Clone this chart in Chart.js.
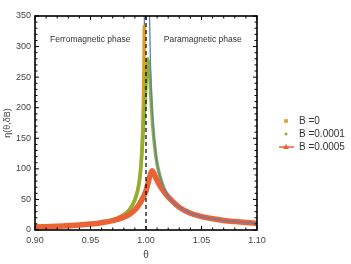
<!DOCTYPE html>
<html>
<head>
<meta charset="utf-8">
<script src="https://cdn.jsdelivr.net/npm/chart.js@4.4.1/dist/chart.umd.min.js"></script>
<style>
  html, body { margin: 0; padding: 0; background: #fff; }
</style>
</head>
<body>
<canvas id="etaChart" width="351" height="264"></canvas>
<script>
// B = 0 (orange points, ferromagnetic side)
const thetaB0 = [0.900, 0.910, 0.920, 0.930, 0.940, 0.950, 0.960, 0.970, 0.975, 0.980, 0.985, 0.990, 0.993, 0.995, 0.996, 0.997, 0.998, 0.9985];
const etaB0 = [5, 5.6, 6.3, 7.2, 8.4, 10, 12.5, 16.5, 20, 25, 33, 50, 70, 98, 122, 165, 245, 335];

// B = 0.0001 (green points)
const thetaB1 = [0.900, 0.920, 0.940, 0.950, 0.960, 0.970, 0.975, 0.980, 0.985, 0.990, 0.993, 0.995, 0.997, 0.999, 1.0005, 1.0015, 1.0025, 1.0035, 1.0045, 1.006, 1.008, 1.010, 1.013, 1.016, 1.020, 1.030, 1.040, 1.050, 1.060, 1.070, 1.080, 1.090, 1.100];
const etaB1 = [5, 6.3, 8.4, 10, 12.5, 16.5, 20, 25, 33, 49, 68, 93, 145, 205, 255, 280, 270, 250, 215, 172, 134, 108, 85, 69, 55, 37, 27.5, 22, 18.3, 15.7, 13.8, 12.2, 11];

// B = 0.0005 (red line)
const thetaB5 = [0.900, 0.920, 0.940, 0.950, 0.960, 0.970, 0.980, 0.985, 0.990, 0.994, 0.997, 1.000, 1.002, 1.004, 1.0055, 1.007, 1.009, 1.012, 1.016, 1.020, 1.030, 1.040, 1.050, 1.060, 1.070, 1.080, 1.090, 1.100];
const etaB5 = [5, 6.2, 8.2, 9.8, 12, 15.3, 21, 25.5, 33, 42, 52, 64, 78, 91, 97, 93, 85, 74, 63, 54, 37, 27.5, 22, 18.3, 15.7, 13.8, 12.2, 11];

// zero-field curve (thin blue line), two branches
const thetaTheoryLeft = [0.900, 0.920, 0.940, 0.950, 0.960, 0.970, 0.980, 0.985, 0.990, 0.993, 0.995, 0.997, 0.998, 0.9985, 0.9988];
const etaTheoryLeft = [5, 6.3, 8.4, 10, 12.5, 16.5, 25, 33, 50, 70, 98, 165, 245, 335, 420];
const thetaTheoryRight = [1.0025, 1.003, 1.004, 1.005, 1.006, 1.008, 1.010, 1.013, 1.016, 1.020, 1.025, 1.030, 1.040, 1.050, 1.060, 1.070, 1.080, 1.090, 1.100];
const etaTheoryRight = [440, 367, 275, 220, 183, 138, 110, 85, 69, 55, 44, 37, 27.5, 22, 18.3, 15.7, 13.8, 12.2, 11];

const xTicks = [0.90, 0.95, 1.00, 1.05, 1.10];
const yTicks = [0, 50, 100, 150, 200, 250, 300, 350];
const criticalTheta = 1.0;
const phaseLabels = [
    { text: 'Ferromagnetic phase', theta: 0.9498, eta: 311 },
    { text: 'Paramagnetic phase', theta: 1.0511, eta: 311 }
];

const FONT = '"Liberation Sans", Arial, sans-serif';
const ORANGE = '#E19C24', GREEN = '#8FB032', RED = '#EB6235', BLUE = '#5E81B5';

const pts = (xs, ys) => xs.map((x, i) => ({ x: x, y: ys[i] }));

const legendItems = [
    { label: 'B =0', color: ORANGE, kind: 'square' },
    { label: 'B =0.0001', color: GREEN, kind: 'dot' },
    { label: 'B =0.0005', color: RED, kind: 'lineTriangle' }
];

const framePlugin = {
    id: 'frame',
    afterDatasetsDraw(chart) {
        const { ctx, chartArea: a, scales: { x, y } } = chart;
        ctx.save();

        // dashed line at the critical point
        const xc = x.getPixelForValue(criticalTheta);
        ctx.strokeStyle = '#000';
        ctx.lineWidth = 1.2;
        ctx.setLineDash([4, 3]);
        ctx.beginPath();
        ctx.moveTo(xc, a.bottom);
        ctx.lineTo(xc, a.top);
        ctx.stroke();
        ctx.setLineDash([]);

        // phase labels
        ctx.fillStyle = '#333';
        ctx.font = '8.5px ' + FONT;
        ctx.textAlign = 'center';
        ctx.textBaseline = 'middle';
        phaseLabels.forEach(p => {
            ctx.fillText(p.text, x.getPixelForValue(p.theta), y.getPixelForValue(p.eta));
        });

        // frame with inward ticks
        ctx.strokeStyle = '#000';
        ctx.lineWidth = 1;
        ctx.beginPath();
        for (let i = 0; i <= 20; i++) {
            const px = x.getPixelForValue(0.9 + i * 0.01);
            const len = i % 5 === 0 ? 4 : 2.5;
            ctx.moveTo(px, a.bottom); ctx.lineTo(px, a.bottom - len);
            ctx.moveTo(px, a.top); ctx.lineTo(px, a.top + len);
        }
        for (let j = 0; j <= 35; j++) {
            const py = y.getPixelForValue(j * 10);
            const len = j % 5 === 0 ? 4 : 2.5;
            ctx.moveTo(a.left, py); ctx.lineTo(a.left + len, py);
            ctx.moveTo(a.right, py); ctx.lineTo(a.right - len, py);
        }
        ctx.stroke();
        ctx.lineWidth = 1.6;
        ctx.strokeRect(a.left, a.top, a.right - a.left, a.bottom - a.top);
        ctx.restore();
    },
    afterDraw(chart) {
        const { ctx } = chart;
        ctx.save();
        ctx.font = '10px ' + FONT;
        ctx.textBaseline = 'middle';
        ctx.textAlign = 'left';
        legendItems.forEach((it, i) => {
            const cy = 121 + i * 13;
            const cx = 286;
            ctx.fillStyle = it.color;
            ctx.strokeStyle = it.color;
            if (it.kind === 'square') {
                ctx.fillRect(cx - 1.8, cy - 1.8, 3.6, 3.6);
            } else if (it.kind === 'dot') {
                ctx.beginPath();
                ctx.arc(cx, cy, 1.5, 0, Math.PI * 2);
                ctx.fill();
            } else {
                ctx.lineWidth = 1.5;
                ctx.beginPath();
                ctx.moveTo(cx - 7, cy); ctx.lineTo(cx + 8, cy);
                ctx.stroke();
                ctx.beginPath();
                ctx.moveTo(cx, cy - 3); ctx.lineTo(cx + 3, cy + 2); ctx.lineTo(cx - 3, cy + 2);
                ctx.closePath();
                ctx.fill();
            }
            ctx.fillStyle = '#333';
            ctx.fillText(it.label, 299, cy);
        });
        ctx.restore();
    }
};

const lineSet = (label, data, color, width) => ({
    label: label,
    data: data,
    showLine: true,
    borderColor: color,
    backgroundColor: color,
    borderWidth: width,
    pointRadius: 0,
    cubicInterpolationMode: 'monotone'
});

new Chart(document.getElementById('etaChart').getContext('2d'), {
    type: 'scatter',
    data: {
        // first dataset is drawn on top
        datasets: [
            lineSet('theory right', pts(thetaTheoryRight, etaTheoryRight), BLUE, 1.3),
            lineSet('B =0.0005', pts(thetaB5, etaB5), RED, 5.5),
            lineSet('B =0.0001', pts(thetaB1, etaB1), GREEN, 3.5),
            lineSet('B =0', pts(thetaB0, etaB0), ORANGE, 3.5),
            lineSet('theory left', pts(thetaTheoryLeft, etaTheoryLeft), BLUE, 1.3)
        ]
    },
    options: {
        responsive: false,
        animation: false,
        layout: { padding: { top: 16, right: 94, left: 0, bottom: 0 } },
        plugins: {
            legend: { display: false },
            tooltip: { enabled: false }
        },
        scales: {
            x: {
                type: 'linear',
                min: 0.9,
                max: 1.1,
                afterBuildTicks: s => { s.ticks = xTicks.map(v => ({ value: v })); },
                afterFit: s => { s.height = 34; },
                grid: { display: false, drawTicks: false },
                border: { display: false },
                ticks: {
                    callback: v => v.toFixed(2),
                    font: { size: 9, family: FONT },
                    color: '#444',
                    padding: 5,
                    maxRotation: 0,
                    autoSkip: false
                },
                title: {
                    display: true,
                    text: 'θ',
                    font: { size: 10, family: FONT },
                    color: '#444',
                    padding: { top: 0, bottom: 3 }
                }
            },
            y: {
                type: 'linear',
                min: 0,
                max: 350,
                afterBuildTicks: s => { s.ticks = yTicks.map(v => ({ value: v })); },
                afterFit: s => { s.width = 35; },
                grid: { display: false, drawTicks: false },
                border: { display: false },
                ticks: {
                    font: { size: 9, family: FONT },
                    color: '#444',
                    padding: 4
                },
                title: {
                    display: true,
                    text: 'η(θ,δB)',
                    font: { size: 9, family: FONT },
                    color: '#444',
                    padding: { top: 2, bottom: 0 }
                }
            }
        }
    },
    plugins: [framePlugin]
});
</script>
</body>
</html>
